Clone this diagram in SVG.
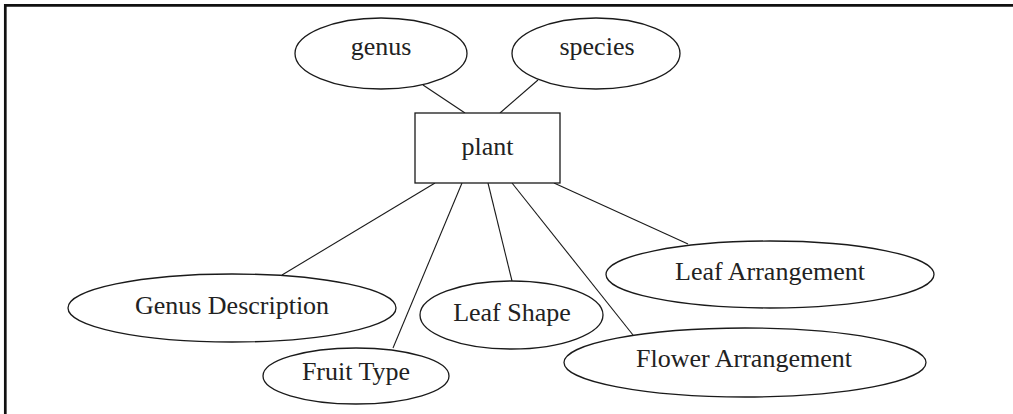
<svg xmlns="http://www.w3.org/2000/svg" width="1013" height="414" viewBox="0 0 1013 414">
<style>
.shape{fill:#fff;stroke:#1a1a1a;stroke-width:1.3}
.conn{stroke:#1a1a1a;stroke-width:1.1;fill:none}
.lbl{font-family:"Liberation Serif","Times New Roman",serif;font-size:26px;fill:#222;text-anchor:middle}
</style>
<rect width="1013" height="414" fill="#fff"/>
<path d="M5.3,414 V5.3 H1013" fill="none" stroke="#111" stroke-width="2.7"/>
<g id="connectors">
<line class="conn" x1="423" y1="85" x2="465" y2="113"/>
<line class="conn" x1="538" y1="80" x2="500" y2="113"/>
<line class="conn" x1="435" y1="183" x2="282" y2="275"/>
<line class="conn" x1="462" y1="183" x2="393" y2="348"/>
<line class="conn" x1="488" y1="183" x2="512" y2="281"/>
<line class="conn" x1="512" y1="183" x2="633" y2="335"/>
<line class="conn" x1="554" y1="183" x2="688" y2="244"/>
</g>
<g id="plant">
<rect class="shape" x="415" y="113" width="145" height="70"/>
<text class="lbl" x="487.5" y="155">plant</text>
</g>
<g id="genus">
<ellipse class="shape" cx="381" cy="53.5" rx="86" ry="35.5"/>
<text class="lbl" x="381" y="55">genus</text>
</g>
<g id="species">
<ellipse class="shape" cx="596" cy="53.5" rx="84" ry="35.5"/>
<text class="lbl" x="597" y="55">species</text>
</g>
<g id="genus-description">
<ellipse class="shape" cx="232" cy="308" rx="164" ry="34"/>
<text class="lbl" x="232" y="314">Genus Description</text>
</g>
<g id="fruit-type">
<ellipse class="shape" cx="356" cy="376" rx="93" ry="28"/>
<text class="lbl" x="356" y="380">Fruit Type</text>
</g>
<g id="leaf-shape">
<ellipse class="shape" cx="511.5" cy="315" rx="91.5" ry="34"/>
<text class="lbl" x="512" y="321">Leaf Shape</text>
</g>
<g id="leaf-arrangement">
<ellipse class="shape" cx="770" cy="274.5" rx="164" ry="33.5"/>
<text class="lbl" x="770" y="280">Leaf Arrangement</text>
</g>
<g id="flower-arrangement">
<ellipse class="shape" cx="745" cy="362.5" rx="181" ry="34.5"/>
<text class="lbl" x="744" y="367">Flower Arrangement</text>
</g>
</svg>
